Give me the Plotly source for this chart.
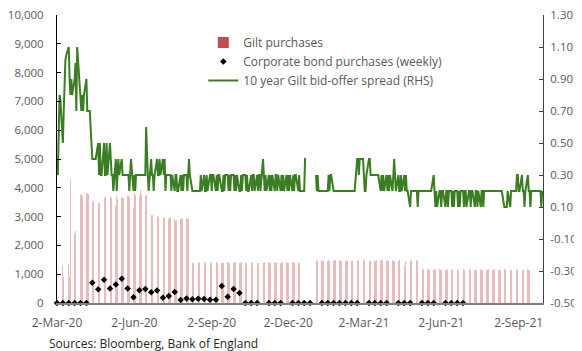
import pandas as pd
import plotly.graph_objects as go

# --- x axis ticks ---
x_tick_dates = ["2020-03-02", "2020-06-02", "2020-09-02", "2020-12-02",
                "2021-03-02", "2021-06-02", "2021-09-02"]
x_tick_labels = ["2-Mar-20", "2-Jun-20", "2-Sep-20", "2-Dec-20",
                 "2-Mar-21", "2-Jun-21", "2-Sep-21"]

# right hand axis ticks
rhs_ticks = [-0.5, -0.3, -0.1, 0.1, 0.3, 0.5, 0.7, 0.9, 1.1, 1.3]
rhs_labels = ["-0.50", "-0.30", "-0.10", "0.10", "0.30", "0.50",
              "0.70", "0.90", "1.10", "1.30"]

# --- 10 year gilt bid-offer spread (RHS), one row per month of business days ---
spread_months = ["2020-03", "2020-04", "2020-05", "2020-06", "2020-07", "2020-08",
                 "2020-09", "2020-10", "2020-11", "2020-12", "2021-01", "2021-02",
                 "2021-03", "2021-04", "2021-05", "2021-06", "2021-07", "2021-08",
                 "2021-09"]
spread_values = [
    [0.40, 0.30, 0.55, 0.80, 0.77, 0.50, 0.70, 0.91, 1.02, 1.05, 1.10, 0.90, 0.80, 0.90, 0.80, 0.90, 1.00, 0.70, 1.10, 1.02, 0.80, 0.70],
    [0.80, 0.70, 0.80, 0.90, 0.70, 0.70, 0.70, 0.70, 0.40, 0.40, 0.40, 0.40, 0.40, 0.50, 0.30, 0.50, 0.30, 0.30, 0.50, 0.30, 0.30, 0.50],
    [0.30, 0.50, 0.40, 0.30, 0.30, 0.20, 0.40, 0.20, 0.30, 0.40, 0.30, 0.40, 0.30, 0.30, 0.30, 0.30, 0.30, 0.30, 0.20, 0.30, 0.40],
    [0.20, 0.30, 0.20, 0.30, 0.30, 0.30, 0.30, 0.30, 0.30, 0.30, 0.30, 0.60, 0.40, 0.30, 0.20, 0.40, 0.30, 0.30, 0.20, 0.30, 0.40, 0.30],
    [0.30, 0.40, 0.30, 0.40, 0.30, 0.40, 0.20, 0.30, 0.30, 0.30, 0.30, 0.20, 0.30, 0.20, 0.30, 0.30, 0.20, 0.20, 0.30, 0.20, 0.30, 0.20, 0.30],
    [0.30, 0.20, 0.30, 0.40, 0.30, 0.20, 0.20, 0.20, 0.20, 0.20, 0.20, 0.20, 0.20, 0.30, 0.20, 0.30, 0.20, 0.20, 0.30, 0.20, 0.30],
    [0.30, 0.20, 0.30, 0.30, 0.20, 0.30, 0.20, 0.30, 0.30, 0.20, 0.20, 0.30, 0.20, 0.30, 0.30, 0.20, 0.30, 0.20, 0.30, 0.30, 0.20, 0.30],
    [0.20, 0.30, 0.20, 0.20, 0.30, 0.20, 0.30, 0.30, 0.20, 0.30, 0.20, 0.20, 0.30, 0.20, 0.30, 0.30, 0.20, 0.30, 0.20, 0.30, 0.30, 0.20],
    [0.40, 0.30, 0.20, 0.30, 0.20, 0.30, 0.20, 0.30, 0.20, 0.30, 0.20, 0.30, 0.30, 0.20, 0.30, 0.20, 0.30, 0.20, 0.30, 0.20, 0.30],
    [0.20, 0.30, 0.20, 0.30, 0.20, 0.30, 0.20, 0.30, 0.30, 0.20, 0.30, 0.20, 0.20, 0.20, 0.20, 0.40, 0.40, None, None, None, None, None, None],
    [None, 0.30, 0.20, 0.30, 0.20, 0.20, 0.20, 0.20, 0.20, 0.20, 0.20, 0.20, 0.30, 0.20, 0.30, 0.30, 0.20, 0.20, 0.20, 0.20, 0.20],
    [0.20, 0.20, 0.20, 0.20, 0.20, 0.20, 0.20, 0.20, 0.20, 0.20, 0.20, 0.20, 0.20, 0.20, 0.20, 0.40, 0.40, 0.30, 0.40, 0.40],
    [0.40, 0.30, 0.20, 0.20, 0.30, 0.40, 0.40, 0.30, 0.30, 0.30, 0.30, 0.30, 0.30, 0.30, 0.30, 0.20, 0.30, 0.20, 0.30, 0.20, 0.30, 0.20, 0.30],
    [0.20, 0.30, 0.20, 0.30, 0.40, 0.30, 0.20, 0.30, 0.20, 0.20, 0.30, 0.20, 0.30, 0.20, 0.30, 0.20, 0.20, 0.10, 0.20, 0.20, 0.20, 0.20],
    [0.20, 0.20, 0.10, 0.20, 0.20, 0.20, 0.20, 0.20, 0.20, 0.20, 0.20, 0.20, 0.20, 0.20, 0.20, 0.30, 0.20, 0.10, 0.20, 0.10, 0.20],
    [0.20, 0.10, 0.20, 0.20, 0.10, 0.20, 0.20, 0.10, 0.20, 0.20, 0.10, 0.20, 0.10, 0.20, 0.20, 0.10, 0.20, 0.10, 0.20, 0.20, 0.10, 0.20],
    [0.20, 0.10, 0.20, 0.20, 0.10, 0.20, 0.20, 0.10, 0.20, 0.20, 0.10, 0.20, 0.10, 0.20, 0.20, 0.10, 0.20, 0.20, 0.20, 0.20, 0.20, 0.20],
    [0.20, 0.20, 0.20, 0.20, 0.20, 0.20, 0.20, 0.20, 0.20, 0.20, 0.10, 0.10, 0.10, 0.10, 0.20, 0.10, 0.20, 0.20, 0.20, 0.20, 0.20, 0.30],
    [0.30, 0.20, 0.20, 0.30, 0.20, 0.20, 0.10, 0.20, 0.30, 0.20, 0.20, 0.10, 0.20, 0.20, 0.20, 0.20, 0.20, 0.20, 0.20, 0.20, 0.10, 0.20],
]

# --- gilt purchases (GBP mn), operations on Mon / Tue / Wed of each week ---
gilt_weeks = pd.date_range("2020-03-09", "2021-09-13", freq="W-MON")
gilt_ops = [
    # Mar 20
    [1300, 900, None], [1350, 900, 4300], [2400, 2500, None], [3750, 3790, 3700],
    # Apr 20
    [3830, 3810, 3780], [3550, 3520, 3500], [3460, 3520, 3480], [3630, 3830, 3700],
    # May 20
    [3670, 3700, 3650], [3370, 3730, 3600], [3670, 3630, 3650], [3700, 3700, 3680],
    # Jun 20
    [3300, 3830, 3750], [3730, 3910, 3800], [3700, 3750, 3800], [3060, 3110, 3050], [3000, 3020, 2990],
    # Jul 20
    [2940, 2975, 2950], [2900, 2990, 2950], [2900, 2860, 2880], [2900, 2950, 2920],
    # Aug 20
    [2950, 2900, 2930], [1400, 1380, 1420], [1390, 1410, 1380], [1420, 1400, 1380], [1400, 1390, 1410],
    # Sep 20
    [1380, 1420, 1400], [1400, 1380, 1390], [1410, 1400, 1380], [1390, 1420, 1400],
    # Oct 20
    [1400, 1380, 1410], [1380, 1400, 1420], [1420, 1390, 1400], [1400, 1410, 1380],
    # Nov 20
    [1390, 1400, 1420], [1410, 1380, 1400], [1400, 1420, 1390], [1380, 1400, 1410], [1420, 1390, 1400],
    # Dec 20
    [1400, 1410, 1380], [1390, 1400, 1420], [None, None, None], [None, None, None],
    # Jan 21
    [1470, 1450, 1490], [1480, 1460, 1450], [1450, 1490, 1470], [1460, 1480, 1500],
    # Feb 21
    [1490, 1450, 1470], [1470, 1480, 1460], [1450, 1470, 1490], [1480, 1460, 1450],
    # Mar 21
    [1460, 1490, 1470], [1500, 1470, 1450], [1470, 1450, 1480], [1450, 1480, 1500], [1490, 1460, 1470],
    # Apr 21
    [1480, 1470, 1450], [1460, 1500, 1480], [1300, 1470, 1490], [1480, 1450, 1470],
    # May 21
    [1470, 1490, 1460], [1180, 1150, 1170], [1150, 1170, 1140], [1160, 1180, 1150], [1170, 1150, 1160],
    # Jun 21
    [1150, 1160, 1180], [1140, 1170, 1150], [1160, 1150, 1170], [1170, 1140, 1160],
    # Jul 21
    [1150, 1170, 1160], [1160, 1150, 1140], [1180, 1160, 1150], [1150, 1140, 1170],
    # Aug 21
    [1160, 1150, 1170], [1140, 1160, 1150], [1170, 1150, 1160], [1150, 1170, 1140], [1160, 1150, 1170],
    # Sep 21
    [1150, 1160, 1140], [1170, 1150, 1160],
]

# --- corporate bond purchases (weekly, GBP mn) ---
corp_weeks = pd.date_range("2020-03-02", "2021-06-28", freq="W-MON")
corp_values = [
    0, 0, 0, 0, 0, 0,
    700, 475, 810, 500, 640, 845, 500, 200,
    440, 485, 370, 430, 185, 240, 380, 100,
    160, 130, 150, 140, 115, 115, 590, 220, 485, 345,
    0, 0, 0, None, 0, 0, 0, None, 0, 0,
    0, 0, None, 0, 0, 0, 0, 0, 0, 0,
    None, 0, 0, 0, 0, None, 0, 0, 0, None,
    0, 0, 0, None, 0, 0, 0, 0,
]

# build series
spread_x, spread_y = [], []
for month, vals in zip(spread_months, spread_values):
    start = pd.Timestamp(month + "-01")
    days = pd.bdate_range(start, start + pd.offsets.MonthEnd(0))
    for d, v in zip(days, vals):
        spread_x.append(d)
        spread_y.append(v)

gilt_x, gilt_y = [], []
for monday, ops in zip(gilt_weeks, gilt_ops):
    for offset, v in enumerate(ops):
        if v is not None:
            gilt_x.append(monday + pd.Timedelta(days=offset))
            gilt_y.append(v)

text_grey = "#595959"
font_family = "Open Sans, Arial, sans-serif"

fig = go.Figure()

fig.add_trace(go.Bar(
    x=gilt_x, y=gilt_y,
    marker=dict(color="rgba(192,80,77,0.38)", line=dict(width=0)),
    showlegend=False,
    hoverinfo="x+y",
))
# legend entry for the bars (solid swatch as in the original)
fig.add_trace(go.Scatter(
    x=[None], y=[None], mode="markers",
    marker=dict(symbol="square", size=11, color="#C0504D"),
    name="Gilt purchases",
))
fig.add_trace(go.Scatter(
    x=list(corp_weeks), y=corp_values, mode="markers",
    marker=dict(symbol="diamond", size=5, color="black"),
    name="Corporate bond purchases (weekly)",
    cliponaxis=False,
))
fig.add_trace(go.Scatter(
    x=spread_x, y=spread_y, mode="lines",
    line=dict(color="#3A7D22", width=2),
    name="10 year Gilt bid-offer spread (RHS)",
    yaxis="y2",
))

# the page body adds an 8px offset, so the figure is 8px smaller than the window
fig.update_layout(
    width=574, height=343,
    margin=dict(l=49, r=39, t=7, b=48, autoexpand=False),
    paper_bgcolor="white", plot_bgcolor="white",
    font=dict(family=font_family, size=12, color=text_grey),
    bargap=0,
    showlegend=True,
    legend=dict(
        x=0.301, y=0.955, xanchor="left", yanchor="top",
        bgcolor="rgba(0,0,0,0)", font=dict(size=12, color=text_grey),
        tracegroupgap=0, itemwidth=30,
    ),
    xaxis=dict(
        type="date", automargin=False,
        range=["2020-03-02", "2021-10-01"],
        tickvals=x_tick_dates, ticktext=x_tick_labels,
        showgrid=False, zeroline=False,
        showline=True, linecolor="#808080", linewidth=1.5,
        ticks="", ticklabelstandoff=8,
    ),
    yaxis=dict(
        automargin=False, ticklabeloverflow="allow",
        range=[0, 10000], dtick=1000, tickformat=",",
        tickfont=dict(size=11.5, color=text_grey),
        showgrid=False, zeroline=False,
        showline=True, linecolor="black", linewidth=1,
        ticks="inside", ticklen=4, tickcolor="black",
        ticklabelstandoff=10,
    ),
    yaxis2=dict(
        automargin=False, ticklabeloverflow="allow",
        overlaying="y", side="right",
        range=[-0.5, 1.3], tickvals=rhs_ticks, ticktext=rhs_labels,
        tickfont=dict(size=11.5, color=text_grey),
        showgrid=False, zeroline=False,
        showline=True, linecolor="#404040", linewidth=1,
        ticks="inside", ticklen=4, tickcolor="#404040",
        ticklabelstandoff=4,
    ),
    annotations=[dict(
        text="Sources: Bloomberg, Bank of England",
        xref="paper", yref="paper", x=-0.021, y=-0.139,
        xanchor="left", yanchor="middle", showarrow=False,
        font=dict(size=12, color="#262626"),
    )],
)

fig.write_html("out.html")
